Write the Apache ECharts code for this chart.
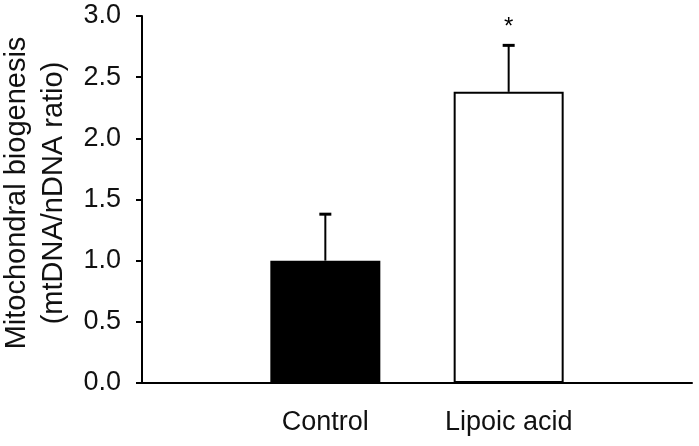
<!DOCTYPE html>
<html lang="en">
<head>
    <meta charset="UTF-8"/>
    <title>Mitochondrial biogenesis</title>
    <script src="https://cdn.jsdelivr.net/npm/echarts@6/dist/echarts.min.js"></script>
    <style>
        html, body { margin: 0; padding: 0; background: #fff; }
    </style>
</head>
<body>
<div id="main" style="width: 699px;height: 446px;"></div>
<script type="text/javascript">
    // data
    var groups = ['Control', 'Lipoic acid'];
    var means = [1.0, 2.38];
    var errors = [0.38, 0.38];
    var marks = ['', '*'];
    var yTicks = ['0.0', '0.5', '1.0', '1.5', '2.0', '2.5', '3.0'];

    // pad with an empty slot either side so the bars sit at 1/3 and 2/3 of the axis
    var cats = [''].concat(groups, ['']);
    var barData = [null];
    var errData = [];
    for (var i = 0; i < groups.length; i++) {
        barData.push({
            value: means[i],
            itemStyle: i === 0
                ? {color: '#000', borderColor: '#000', borderWidth: 0}
                : {color: '#fff', borderColor: '#000', borderWidth: 2}
        });
        errData.push([i + 1, means[i], errors[i], marks[i]]);
    }
    barData.push(null);

    var font = 'Liberation Sans, Arial, Helvetica, sans-serif';
    var myChart = echarts.init(document.getElementById('main'));

    myChart.setOption({
        animation: false,
        grid: {left: 142, right: 7, top: 16, bottom: 63, containLabel: false, outerBoundsMode: 'none'},
        xAxis: {
            type: 'category',
            data: cats,
            boundaryGap: false,
            axisLine: {lineStyle: {color: '#000', width: 2}},
            axisTick: {show: false},
            axisLabel: {color: '#111', fontSize: 27, fontFamily: font, margin: 26, interval: 0},
            splitLine: {show: false}
        },
        yAxis: {
            type: 'value',
            min: 0,
            max: 3,
            interval: 0.5,
            name: 'Mitochondral biogenesis\n(mtDNA/nDNA ratio)',
            nameLocation: 'middle',
            nameGap: 66,
            nameTextStyle: {
                color: '#111', fontSize: 29, fontFamily: font, lineHeight: 37,
                padding: [0, 0, 0, 13]
            },
            axisLine: {show: true, lineStyle: {color: '#000', width: 2}},
            axisTick: {show: true, inside: false, length: 6, lineStyle: {color: '#000', width: 2}},
            axisLabel: {
                color: '#111', fontSize: 27, fontFamily: font, margin: 21,
                formatter: function (v) { return yTicks[Math.round(v / 0.5)]; }
            },
            splitLine: {show: false}
        },
        series: [{
            type: 'bar',
            data: barData,
            barWidth: 110,
            z: 2
        }, {
            type: 'custom',
            data: errData,
            z: 3,
            renderItem: function (params, api) {
                var x = api.value(0);
                var m = api.value(1);
                var e = api.value(2);
                var s = errData[params.dataIndex][3];
                var base = api.coord([x, m]);
                var top = api.coord([x, m + e]);
                return {
                    type: 'group',
                    children: [{
                        type: 'line',
                        shape: {x1: base[0], y1: base[1], x2: top[0], y2: top[1]},
                        style: {stroke: '#000', lineWidth: 2}
                    }, {
                        type: 'line',
                        shape: {x1: top[0] - 6, y1: top[1], x2: top[0] + 6, y2: top[1]},
                        style: {stroke: '#000', lineWidth: 3}
                    }, {
                        type: 'text',
                        style: {
                            x: top[0], y: top[1] - 18,
                            text: s,
                            fill: '#000',
                            font: '24px ' + font,
                            align: 'center',
                            verticalAlign: 'middle'
                        }
                    }]
                };
            }
        }]
    });
</script>
</body>
</html>
